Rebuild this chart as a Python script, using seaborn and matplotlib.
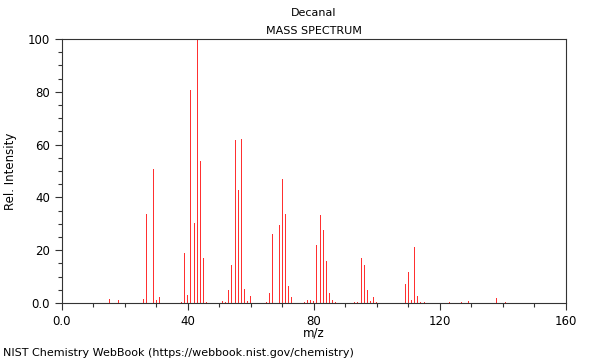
import seaborn as sns
import matplotlib.pyplot as plt
from matplotlib.ticker import MultipleLocator, FixedFormatter, FixedLocator

# peaks (m/z, relative intensity)
mz = [15, 18, 26, 27, 28, 29, 30, 31, 38, 39, 40, 41, 42, 43, 44, 45, 46,
      51, 52, 53, 54, 55, 56, 57, 58, 59, 60, 65, 66, 67, 68, 69, 70, 71, 72, 73,
      77, 78, 79, 80, 81, 82, 83, 84, 85, 86, 87, 93, 94, 95, 96, 97, 98, 99, 100,
      109, 110, 111, 112, 113, 114, 115, 123, 127, 128, 129, 138, 141]
intensity = [1.5, 1.0, 1.4, 33.6, 6.8, 50.6, 1.1, 2.4, 0.5, 19.1, 3.0, 80.7, 30.4, 100.0, 53.8, 17.0, 0.3,
             0.8, 0.3, 4.9, 14.4, 61.7, 42.8, 62.1, 5.2, 0.8, 2.7, 0.5, 3.7, 26.0, 34.2, 29.5, 47.0, 33.7, 6.4, 2.4,
             0.3, 1.0, 1.3, 0.8, 22.0, 33.3, 27.5, 16.0, 4.0, 1.0, 0.3, 0.3, 0.3, 17.2, 14.4, 4.9, 0.8, 2.3, 0.5,
             7.2, 11.7, 1.1, 21.3, 2.8, 0.4, 0.3, 0.4, 0.3, 3.6, 0.8, 1.9, 0.3]

x_ticks = [0, 40, 80, 120, 160]
x_labels = ["0.0", "40", "80", "120", "160"]
y_ticks = [0, 20, 40, 60, 80, 100]
y_labels = ["0.0", "20", "40", "60", "80", "100"]

sns.set_style("ticks")
plt.rcParams['font.family'] = ['DejaVu Sans']
plt.rcParams['text.color'] = 'black'
plt.rcParams['axes.labelcolor'] = 'black'

fig = plt.figure(figsize=(6, 3.6), dpi=100)
ax = fig.add_axes([0.103, 0.158, 0.840, 0.734])

sns.histplot(x=mz, weights=intensity, discrete=True, shrink=0.3,
             color="#ff3030", linewidth=0, alpha=1, ax=ax)

ax.set_xlim(0, 160)
ax.set_ylim(0, 100)
ax.xaxis.set_major_locator(FixedLocator(x_ticks))
ax.xaxis.set_major_formatter(FixedFormatter(x_labels))
ax.xaxis.set_minor_locator(MultipleLocator(10))
ax.yaxis.set_major_locator(FixedLocator(y_ticks))
ax.yaxis.set_major_formatter(FixedFormatter(y_labels))
ax.yaxis.set_minor_locator(MultipleLocator(5))
ax.tick_params(which='major', direction='out', length=5, width=0.8, labelsize=8.5, colors='#333333', labelcolor='black')
ax.tick_params(which='minor', direction='out', length=3, width=0.8, colors='#333333')
for s in ax.spines.values():
    s.set_visible(True)
    s.set_color('#333333')
    s.set_linewidth(0.8)

ax.set_xlabel("m/z", fontsize=8.5, labelpad=-1)
ax.set_ylabel("Rel. Intensity", fontsize=8.5, labelpad=8)
fig.text(0.523, 0.963, "Decanal", ha='center', va='center', fontsize=8)
fig.text(0.523, 0.915, "MASS SPECTRUM", ha='center', va='center', fontsize=8)
fig.text(0.005, 0.02, "NIST Chemistry WebBook (https://webbook.nist.gov/chemistry)",
         ha='left', va='center', fontsize=8)

fig.savefig("out.png", dpi=100)
